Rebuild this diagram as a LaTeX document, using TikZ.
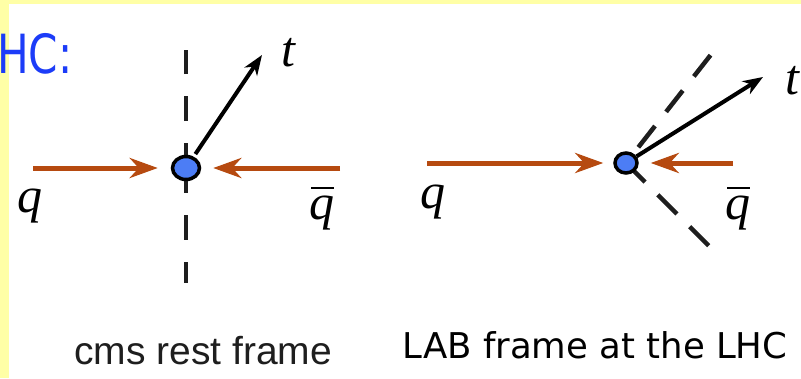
\documentclass[tikz,border=0pt]{standalone}
\usepackage{fontspec}
\setmainfont{Liberation Sans}
\newfontfamily\handfont{DejaVu Sans}
\newfontfamily\labfont{Liberation Serif}
\usetikzlibrary{arrows.meta,shapes.geometric}
\definecolor{slideyellow}{HTML}{FFFFA6}
\definecolor{quarkbrown}{HTML}{B64A10}
\definecolor{dotblue}{HTML}{4C7DF5}
\definecolor{titleblue}{HTML}{1C3CF8}
\definecolor{ink}{HTML}{1E1E1E}
\newcommand{\antiq}{\rlap{\hspace{0.03em}\rule[0.6em]{0.45em}{0.04em}}q}
\tikzset{
  quark/.style={-{Stealth[length=28pt,width=20pt,inset=9pt]},line width=5pt,draw=quarkbrown},
  topline/.style={-{Stealth[length=20pt,width=15pt,inset=6pt]},line width=4pt,draw=black},
  restaxis/.style={line width=4.5pt,draw=ink,dash pattern=on 25pt off 22pt},
  labaxis/.style={line width=4.5pt,draw=ink,dash pattern=on 27pt off 18pt},
  vertexdot/.style={ellipse,draw=black,line width=3.5pt,fill=dotblue,inner sep=0pt},
  mathlab/.style={font=\labfont\itshape\fontsize{50}{50}\selectfont,inner sep=0pt,anchor=base},
  caption/.style={inner sep=0pt,anchor=base,text=ink},
}
\begin{document}
\begin{tikzpicture}[x=1pt,y=-1pt]
  % slide background
  \fill[slideyellow] (0,0) rectangle (801,378);
  \fill[white] (9,4) rectangle (801,378);
  \useasboundingbox (0,0) rectangle (801,378);

  \node[anchor=base west,inner sep=0pt,text=titleblue] (title) at (-3,73)
    {\scalebox{0.78}[1]{\handfont\fontsize{54}{54}\selectfont HC:}};

  % cms rest frame
  \coordinate (cL) at (186,168);
  \coordinate (axtopL) at (186,50);
  \coordinate (axbotL) at (186,283);
  \draw[restaxis] (cL) -- (axtopL);
  \draw[restaxis] (cL) -- (axbotL);
  \node[vertexdot,minimum width=27pt,minimum height=23pt] (dotL) at (cL) {};
  \coordinate (qinL) at (33,168);
  \coordinate (qbinL) at (340,168);
  \coordinate (tendL) at (262,55);
  \draw[quark,shorten >=13pt] (qinL) -- (dotL);
  \draw[quark,shorten >=12pt] (qbinL) -- (dotL);
  \draw[topline,shorten <=3pt] (dotL) -- (tendL);
  \node[mathlab] (qL) at (30,212) {q};
  \node[mathlab] (qbL) at (322,219) {\antiq};
  \node[mathlab] (tL) at (288,66) {t};
  \node[caption,font=\fontsize{39}{39}\selectfont] (capL) at (203,364) {cms rest frame};

  % LAB frame
  \coordinate (cR) at (626,163);
  \coordinate (axupR) at (713,52);
  \coordinate (axdownR) at (710,247);
  \draw[labaxis,dash phase=25pt] (cR) -- (axupR);
  \draw[labaxis] (cR) -- (axdownR);
  \node[vertexdot,minimum width=22pt,minimum height=20pt] (dotR) at (cR) {};
  \coordinate (qinR) at (427,163);
  \coordinate (qbinR) at (733,163);
  \coordinate (tendR) at (763,77);
  \draw[quark,shorten >=10pt] (qinR) -- (dotR);
  \draw[quark,shorten >=12pt] (qbinR) -- (dotR);
  \draw[topline] (dotR) -- (tendR);
  \node[mathlab] (qR) at (433,208) {q};
  \node[mathlab] (qbR) at (738,219) {\antiq};
  \node[mathlab] (tR) at (792,94) {t};
  \node[caption,text=black,font=\handfont\fontsize{35.5}{36}\selectfont] (capR) at (595,358) {LAB frame at the LHC};
\end{tikzpicture}
\end{document}
